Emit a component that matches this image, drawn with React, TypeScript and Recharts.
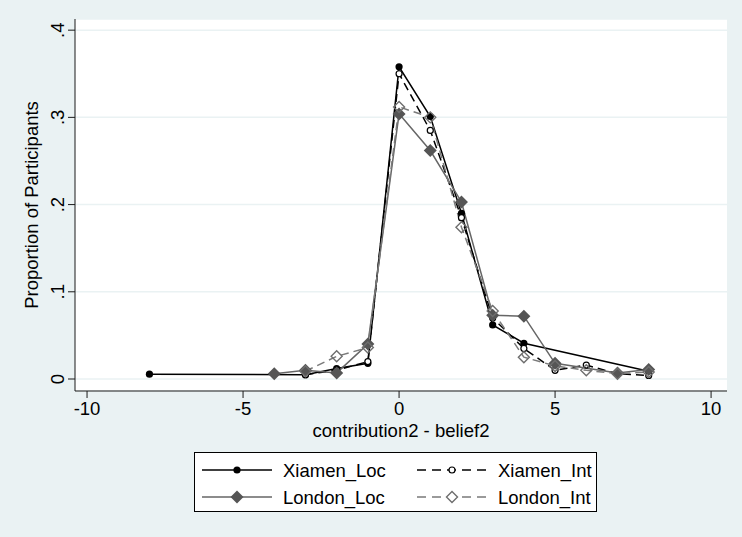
// Distribution of contribution2 - belief2 by session (Stata s2color look)

import React from 'react';
import { LineChart, Line, XAxis, YAxis, CartesianGrid } from 'recharts';

// ── data ──

const X_TICKS = [-10, -5, 0, 5, 10];
const Y_TICKS = [0, 0.1, 0.2, 0.3, 0.4];

const XIAMEN_LOC_X = [-8, -3, -2, -1, 0, 1, 2, 3, 4, 8];
const XIAMEN_LOC_Y = [0.0055, 0.005, 0.012, 0.018, 0.358, 0.301, 0.19, 0.062, 0.041, 0.009];

const XIAMEN_INT_X = [-3, -2, -1, 0, 1, 2, 3, 4, 5, 6, 7, 8];
const XIAMEN_INT_Y = [0.005, 0.01, 0.02, 0.35, 0.285, 0.185, 0.07, 0.035, 0.01, 0.016, 0.006, 0.004];

const LONDON_LOC_X = [-4, -3, -2, -1, 0, 1, 2, 3, 4, 5, 7, 8];
const LONDON_LOC_Y = [0.006, 0.01, 0.007, 0.04, 0.304, 0.262, 0.203, 0.073, 0.072, 0.018, 0.007, 0.011];

const LONDON_INT_X = [-3, -2, -1, 0, 1, 2, 3, 4, 5, 6, 7, 8];
const LONDON_INT_Y = [0.009, 0.026, 0.036, 0.312, 0.3, 0.174, 0.078, 0.025, 0.015, 0.01, 0.006, 0.008];

const SERIES_NAMES = ['Xiamen_Loc', 'Xiamen_Int', 'London_Loc', 'London_Int'];

// ── style ──

const FONT = '"Liberation Sans", Arial, sans-serif';
const BG = '#eaf2f3';
const AXIS = '#1a1a1a';
const FS = 18.5;

const pts = (xs: number[], ys: number[]) => xs.map((x, i) => ({ x, y: ys[i] }));

const xiamenLoc = pts(XIAMEN_LOC_X, XIAMEN_LOC_Y);
const xiamenInt = pts(XIAMEN_INT_X, XIAMEN_INT_Y);
const londonLoc = pts(LONDON_LOC_X, LONDON_LOC_Y);
const londonInt = pts(LONDON_INT_X, LONDON_INT_Y);

// ── markers ──

function diamond(cx: number, cy: number, r: number) {
  return `${cx},${cy - r} ${cx + r},${cy} ${cx},${cy + r} ${cx - r},${cy}`;
}

const SolidDot = (p: any) =>
  p.cx == null ? null : <circle key={p.index} cx={p.cx} cy={p.cy} r={3.6} fill="#000" />;

const HollowDot = (p: any) =>
  p.cx == null ? null : (
    <circle key={p.index} cx={p.cx} cy={p.cy} r={3} fill="#fff" stroke="#000" strokeWidth={1.2} />
  );

const SolidDiamond = (p: any) =>
  p.cx == null ? null : <polygon key={p.index} points={diamond(p.cx, p.cy, 6.5)} fill="#555" />;

const HollowDiamond = (p: any) =>
  p.cx == null ? null : (
    <polygon
      key={p.index}
      points={diamond(p.cx, p.cy, 5.5)}
      fill="none"
      stroke="#6e6e6e"
      strokeWidth={1.4}
    />
  );

// ── ticks ──

const fmtY = (v: number) => (v === 0 ? '0' : `.${Math.round(v * 10)}`);

const YTick = (p: any) => {
  const x = p.x;
  const y = p.y;
  return (
    <text
      x={x}
      y={y}
      transform={`rotate(-90 ${x} ${y})`}
      textAnchor="middle"
      fontSize={FS}
      fontFamily={FONT}
      fill="#000"
    >
      {fmtY(p.payload.value)}
    </text>
  );
};

// ── legend ──

function LegendBox() {
  const rows = [
    { y: 18, items: [0, 1] },
    { y: 45, items: [2, 3] },
  ];
  const sample = (idx: number, x0: number, x1: number, cy: number) => {
    const mx = (x0 + x1) / 2;
    if (idx === 0)
      return (
        <g>
          <line x1={x0} y1={cy} x2={x1} y2={cy} stroke="#000" strokeWidth={1.5} />
          <circle cx={mx} cy={cy} r={3.6} fill="#000" />
        </g>
      );
    if (idx === 1)
      return (
        <g>
          <line x1={x0} y1={cy} x2={x1} y2={cy} stroke="#000" strokeWidth={1.5} strokeDasharray="9 6" />
          <circle cx={mx} cy={cy} r={3} fill="#fff" stroke="#000" strokeWidth={1.2} />
        </g>
      );
    if (idx === 2)
      return (
        <g>
          <line x1={x0} y1={cy} x2={x1} y2={cy} stroke="#666" strokeWidth={1.5} />
          <polygon points={diamond(mx, cy, 6.5)} fill="#555" />
        </g>
      );
    return (
      <g>
        <line x1={x0} y1={cy} x2={x1} y2={cy} stroke="#7a7a7a" strokeWidth={1.5} strokeDasharray="9 6" />
        <polygon points={diamond(mx, cy, 5.5)} fill="#fff" stroke="#6e6e6e" strokeWidth={1.4} />
      </g>
    );
  };
  return (
    <div
      style={{
        position: 'absolute',
        left: 194,
        top: 452,
        width: 403,
        height: 60,
        boxSizing: 'border-box',
        border: '1px solid #000',
        background: '#fff',
      }}
    >
      <svg width={401} height={58} style={{ position: 'absolute', left: 0, top: 0 }}>
        {rows.map((row) =>
          row.items.map((idx, col) => {
            const x0 = col === 0 ? 7 : 222;
            const tx = col === 0 ? 88 : 303;
            return (
              <g key={idx}>
                {sample(idx, x0, x0 + 70, row.y - 1)}
                <text x={tx} y={row.y + 5.6} fontSize={FS} fontFamily={FONT} fill="#000">
                  {SERIES_NAMES[idx]}
                </text>
              </g>
            );
          })
        )}
      </svg>
    </div>
  );
}

// ── main ──

export default function App() {
  return (
    <div
      style={{
        position: 'absolute',
        left: 0,
        top: 0,
        width: 742,
        height: 537,
        background: BG,
        fontFamily: FONT,
      }}
    >
      <LineChart width={742} height={537} margin={{ top: 19, right: 15, bottom: 96, left: 15 }}>
        <CartesianGrid vertical={false} stroke={BG} strokeWidth={1.5} fill="#fff" />
        <XAxis
          type="number"
          dataKey="x"
          domain={[-10.386, 10.51]}
          ticks={X_TICKS}
          height={50}
          stroke={AXIS}
          tickSize={7}
          tickMargin={4}
          tick={{ fontSize: FS, fill: '#000', fontFamily: FONT }}
          label={{
            content: () => (
              <text x={401} y={436.5} textAnchor="middle" fontSize={FS} fontFamily={FONT} fill="#000">
                contribution2 - belief2
              </text>
            ),
          }}
        />
        <YAxis
          type="number"
          dataKey="y"
          domain={[-0.01376, 0.4128]}
          ticks={Y_TICKS}
          width={60}
          stroke={AXIS}
          tickSize={7}
          tickMargin={4}
          tick={<YTick />}
          label={{
            content: () => (
              <text
                x={38}
                y={205}
                transform="rotate(-90 38 205)"
                textAnchor="middle"
                fontSize={FS}
                fontFamily={FONT}
                fill="#000"
              >
                Proportion of Participants
              </text>
            ),
          }}
        />
        <Line
          data={xiamenLoc}
          dataKey="y"
          stroke="#000"
          strokeWidth={1.5}
          dot={SolidDot}
          isAnimationActive={false}
        />
        <Line
          data={xiamenInt}
          dataKey="y"
          stroke="#000"
          strokeWidth={1.5}
          strokeDasharray="8 5"
          dot={HollowDot}
          isAnimationActive={false}
        />
        <Line
          data={londonLoc}
          dataKey="y"
          stroke="#666"
          strokeWidth={1.5}
          dot={SolidDiamond}
          isAnimationActive={false}
        />
        <Line
          data={londonInt}
          dataKey="y"
          stroke="#7a7a7a"
          strokeWidth={1.5}
          strokeDasharray="8 5"
          dot={HollowDiamond}
          isAnimationActive={false}
        />
      </LineChart>
      <LegendBox />
    </div>
  );
}
